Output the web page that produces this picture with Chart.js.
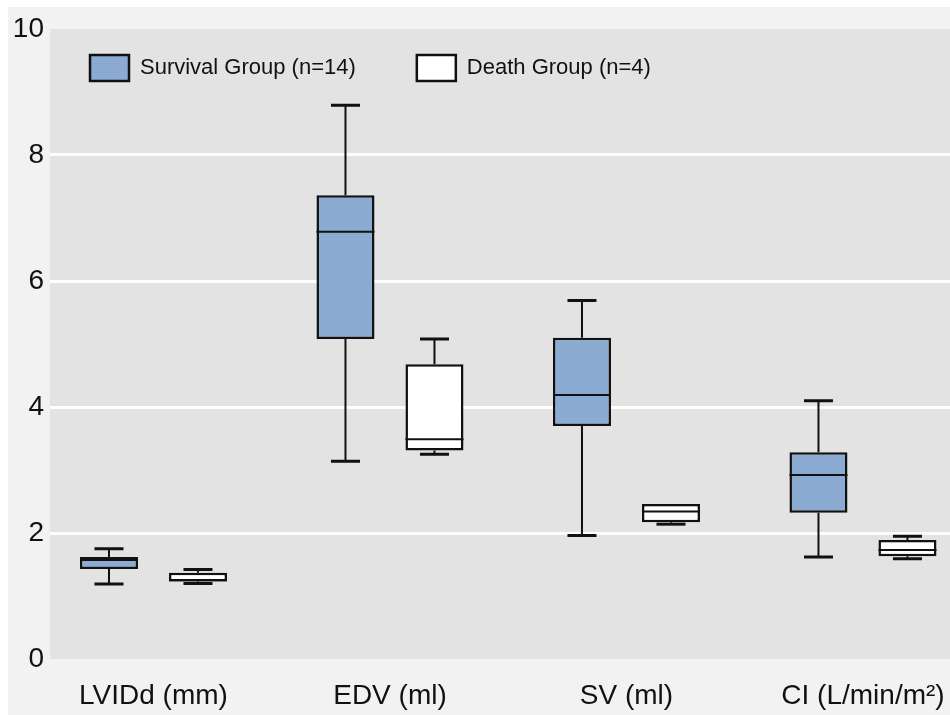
<!DOCTYPE html>
<html>
<head>
<meta charset="utf-8">
<script src="https://cdn.jsdelivr.net/npm/chart.js@4.4.1/dist/chart.umd.min.js"></script>
<style>
  html, body { margin: 0; padding: 0; background: #fff; overflow: hidden; }
  #wrap { width: 950px; height: 715px; }
</style>
</head>
<body>
<div id="wrap"><canvas id="boxChart" width="950" height="715"></canvas></div>
<script>
// Categories and tick labels
const categories = ['LVIDd (mm)', 'EDV (ml)', 'SV (ml)', 'CI (L/min/m²)'];
const yTicks = [0, 2, 4, 6, 8, 10];

// Survival group (n=14) box plot values
const survivalMin    = [1.19, 3.14, 1.96, 1.62];
const survivalQ1     = [1.43, 5.08, 3.70, 2.32];
const survivalMedian = [1.57, 6.78, 4.19, 2.92];
const survivalQ3     = [1.62, 7.36, 5.10, 3.28];
const survivalMax    = [1.75, 8.79, 5.69, 4.10];

// Death group (n=4) box plot values
const deathMin    = [1.20, 3.25, 2.14, 1.59];
const deathQ1     = [1.23, 3.31, 2.17, 1.63];
const deathMedian = [1.25, 3.49, 2.34, 1.73];
const deathQ3     = [1.37, 4.68, 2.46, 1.89];
const deathMax    = [1.42, 5.08, 2.46, 1.95];

const FONT = "'Liberation Sans', Arial, sans-serif";
const INK = '#111111';

// Boxes are floating bars from Q1 to Q3
function boxData(q1, q3) {
    return categories.map((c, i) => ({ x: i, y: [q1[i], q3[i]] }));
}

const datasets = [
    {
        label: 'Survival Group (n=14)',
        data: boxData(survivalQ1, survivalQ3),
        stats: { min: survivalMin, median: survivalMedian, max: survivalMax },
        backgroundColor: '#8cabd2',
        borderColor: INK,
        borderWidth: 2.5,
        borderSkipped: false
    },
    {
        label: 'Death Group (n=4)',
        data: boxData(deathQ1, deathQ3),
        stats: { min: deathMin, median: deathMedian, max: deathMax },
        backgroundColor: '#ffffff',
        borderColor: INK,
        borderWidth: 2.5,
        borderSkipped: false
    }
];

// Panel and plot background
const backgroundPlugin = {
    id: 'panelBackground',
    beforeDraw(chart) {
        const { ctx, chartArea } = chart;
        ctx.save();
        ctx.fillStyle = '#ffffff';
        ctx.fillRect(0, 0, chart.width, chart.height);
        ctx.fillStyle = '#f2f2f2';
        ctx.fillRect(8, 7, chart.width - 8, chart.height - 7);
        ctx.fillStyle = '#e3e3e3';
        ctx.fillRect(chartArea.left, chartArea.top, chartArea.right - chartArea.left, chartArea.bottom - chartArea.top);
        ctx.restore();
    }
};

// Whiskers, caps and median lines, placed with the bar elements and y scale
const whiskerPlugin = {
    id: 'boxWhiskers',
    afterDatasetsDraw(chart) {
        const { ctx } = chart;
        const yScale = chart.scales.y;
        chart.data.datasets.forEach((ds, d) => {
            const meta = chart.getDatasetMeta(d);
            meta.data.forEach((bar, i) => {
                const q1 = ds.data[i].y[0];
                const q3 = ds.data[i].y[1];
                const half = bar.width / 2;
                const cap = bar.width / 4;
                const yMed = yScale.getPixelForValue(ds.stats.median[i]);
                const yMin = yScale.getPixelForValue(ds.stats.min[i]);
                const yMax = yScale.getPixelForValue(ds.stats.max[i]);
                const yQ1 = yScale.getPixelForValue(q1);
                const yQ3 = yScale.getPixelForValue(q3);
                ctx.save();
                ctx.strokeStyle = INK;
                ctx.lineCap = 'butt';
                // median
                ctx.lineWidth = 2;
                ctx.beginPath();
                ctx.moveTo(bar.x - half, yMed);
                ctx.lineTo(bar.x + half, yMed);
                ctx.stroke();
                // whiskers
                ctx.lineWidth = 2;
                ctx.beginPath();
                if (yMax < yQ3) { ctx.moveTo(bar.x, yQ3); ctx.lineTo(bar.x, yMax); }
                if (yMin > yQ1) { ctx.moveTo(bar.x, yQ1); ctx.lineTo(bar.x, yMin); }
                ctx.stroke();
                // caps
                ctx.lineWidth = 3;
                ctx.beginPath();
                if (yMax < yQ3) { ctx.moveTo(bar.x - cap, yMax); ctx.lineTo(bar.x + cap, yMax); }
                if (yMin > yQ1) { ctx.moveTo(bar.x - cap, yMin); ctx.lineTo(bar.x + cap, yMin); }
                ctx.stroke();
                ctx.restore();
            });
        });
    }
};

// Legend sits inside the plot area: take no layout space, then move it
const legendPlacePlugin = {
    id: 'legendPlace',
    beforeInit(chart) {
        const fit = chart.legend.fit;
        chart.legend.fit = function () {
            fit.bind(chart.legend)();
            this.height = 0;
        };
    },
    afterLayout(chart) {
        const legend = chart.legend;
        legend.left = 29;
        legend.top = -6;
        legend.height = 120;
        legend.bottom = legend.top + legend.height;
    }
};

const config = {
    type: 'bar',
    data: { datasets: datasets },
    options: {
        responsive: false,
        animation: false,
        categoryPercentage: 0.7526,
        barPercentage: 0.652,
        layout: { padding: { top: 29, left: 0, right: 0, bottom: 0 } },
        scales: {
            x: {
                type: 'linear',
                offset: false,
                min: -0.4376,
                max: 3.368,
                afterBuildTicks(scale) {
                    scale.ticks = categories.map((c, i) => ({ value: i }));
                },
                afterFit(scale) {
                    scale.height = 56;
                    scale.paddingLeft = 0;
                    scale.paddingRight = 0;
                },
                ticks: {
                    callback: (v) => categories[v],
                    font: { family: FONT, size: 28 },
                    color: INK,
                    padding: 12,
                    maxRotation: 0,
                    autoSkip: false
                },
                grid: { display: false },
                border: { display: false }
            },
            y: {
                min: 0,
                max: 10,
                afterBuildTicks(scale) {
                    scale.ticks = yTicks.map(v => ({ value: v }));
                },
                afterFit(scale) { scale.width = 50; },
                ticks: {
                    font: { family: FONT, size: 28 },
                    color: INK,
                    padding: 6
                },
                grid: {
                    color: (c) => (c.tick && (c.tick.value === 0 || c.tick.value === 10)) ? 'rgba(0,0,0,0)' : '#ffffff',
                    lineWidth: 3,
                    drawTicks: false
                },
                border: { display: false }
            }
        },
        plugins: {
            legend: {
                position: 'top',
                align: 'start',
                labels: {
                    boxWidth: 39,
                    boxHeight: 26,
                    padding: 61,
                    color: INK,
                    font: { family: FONT, size: 22 }
                }
            },
            tooltip: { enabled: false }
        }
    },
    plugins: [backgroundPlugin, whiskerPlugin, legendPlacePlugin]
};

document.addEventListener('DOMContentLoaded', () => {
    const canvas = document.getElementById('boxChart');
    new Chart(canvas, config);
});
</script>
</body>
</html>
